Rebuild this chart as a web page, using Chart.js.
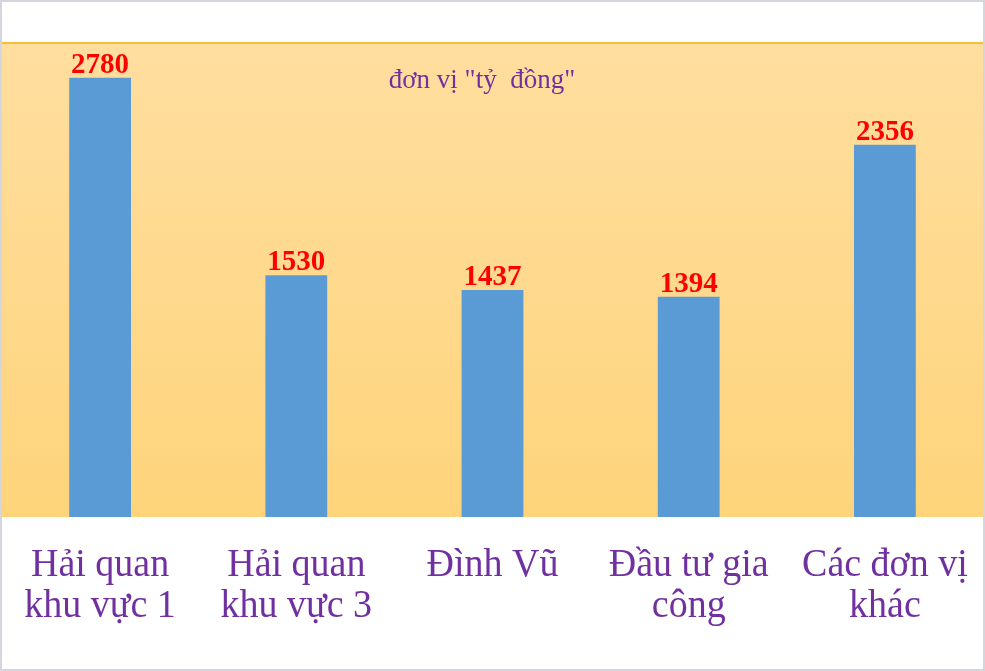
<!DOCTYPE html>
<html>
<head>
<meta charset="utf-8">
<script src="https://cdn.jsdelivr.net/npm/chart.js@4/dist/chart.umd.min.js"></script>
<style>
  html, body { margin: 0; padding: 0; background: #fff; }
  #wrap { width: 985px; height: 671px; position: relative; }
  canvas { display: block; }
</style>
</head>
<body>
<div id="wrap"><canvas id="chart" width="985" height="671"></canvas></div>
<script>
// data
const categories = [
  ['Hải quan', 'khu vực 1'],
  ['Hải quan', 'khu vực 3'],
  ['Đình Vũ'],
  ['Đầu tư gia', 'công'],
  ['Các đơn vị', 'khác']
];
const values = [2780, 1530, 1437, 1394, 2356];
const unitNote = 'đơn vị "tỷ  đồng"';

// gradient background + frame
const backdrop = {
  id: 'backdrop',
  beforeDraw(chart) {
    const { ctx, chartArea: a, width, height } = chart;
    ctx.save();
    ctx.fillStyle = '#fff';
    ctx.fillRect(0, 0, width, height);
    const g = ctx.createLinearGradient(0, a.top, 0, a.bottom);
    g.addColorStop(0, '#ffde9f');
    g.addColorStop(1, '#fed47b');
    ctx.fillStyle = g;
    ctx.fillRect(a.left, a.top, a.right - a.left, a.bottom - a.top);
    ctx.fillStyle = '#f6bf3a';
    ctx.fillRect(a.left, a.top - 1, a.right - a.left, 2);
    ctx.restore();
  },
  afterDraw(chart) {
    const { ctx, width, height } = chart;
    ctx.save();
    ctx.strokeStyle = '#d5d5dd';
    ctx.lineWidth = 2;
    ctx.strokeRect(1, 1, width - 2, height - 2);
    ctx.restore();
  }
};

// value labels, category labels, unit note
const labels = {
  id: 'labels',
  afterDatasetsDraw(chart) {
    const { ctx, chartArea: a } = chart;
    const meta = chart.getDatasetMeta(0);
    const x = chart.scales.x;
    ctx.save();
    ctx.textAlign = 'center';
    ctx.textBaseline = 'alphabetic';

    ctx.fillStyle = '#ff0000';
    ctx.font = 'bold 29px "Liberation Serif"';
    meta.data.forEach((bar, i) => {
      ctx.fillText(String(values[i]), bar.x, bar.y - 5);
    });

    ctx.fillStyle = '#7030a0';
    ctx.font = '38px "Liberation Serif"';
    categories.forEach((lines, i) => {
      const cx = x.getPixelForValue(i);
      lines.forEach((t, j) => {
        ctx.save();
        ctx.translate(cx, a.bottom + 59 + j * 41);
        ctx.scale(1, 1.06);
        ctx.fillText(t, 0, 0);
        ctx.restore();
      });
    });

    ctx.font = '27px "Liberation Serif"';
    ctx.fillText(unitNote, 482, 88);
    ctx.restore();
  }
};

new Chart(document.getElementById('chart'), {
  type: 'bar',
  data: {
    labels: categories,
    datasets: [{
      data: values,
      backgroundColor: '#5b9bd5',
      borderWidth: 0,
      categoryPercentage: 1,
      barPercentage: 0.315
    }]
  },
  options: {
    responsive: false,
    animation: false,
    events: [],
    layout: { padding: { left: 2, right: 2, top: 43, bottom: 154 } },
    plugins: { legend: { display: false }, tooltip: { enabled: false } },
    scales: {
      x: { display: false },
      y: { display: false, min: 0, max: 3000 }
    }
  },
  plugins: [backdrop, labels]
});
</script>
</body>
</html>
